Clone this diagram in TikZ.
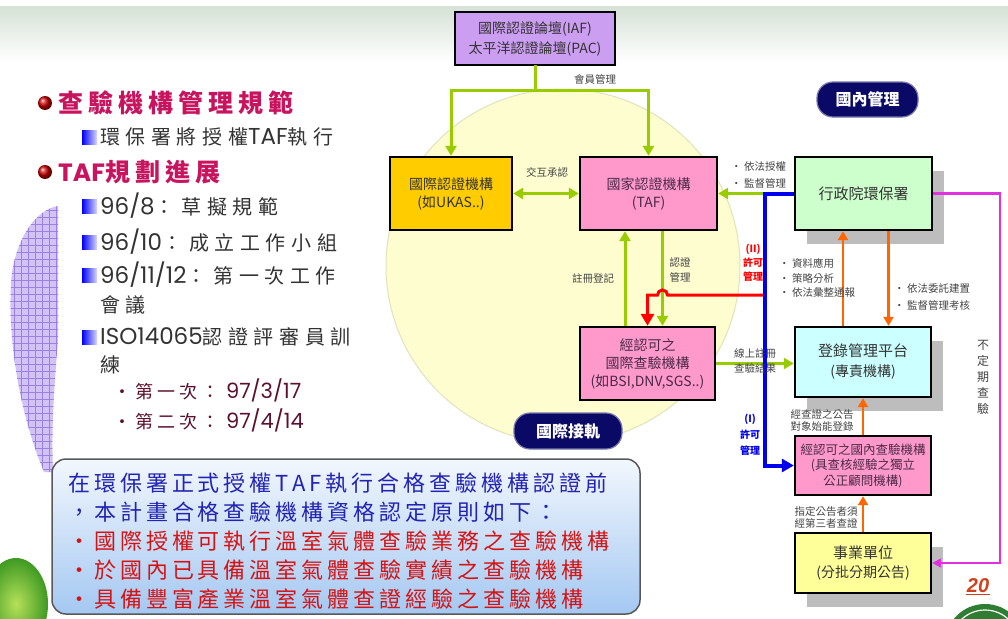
\documentclass[tikz,border=0pt]{standalone}
\usepackage{fontspec}
\setmainfont{Noto Sans CJK TC}
\setsansfont{Liberation Sans}
\newfontfamily\cjkwide{Noto Sans CJK TC}[LetterSpace=28]
\newfontfamily\cjkdate{Noto Sans CJK TC}[LetterSpace=22]
\newfontfamily\cjkhead{Noto Sans CJK TC}[LetterSpace=20]
\newfontfamily\cjkwider{Noto Sans CJK TC}[LetterSpace=18]
\newfontfamily\geo{Poppins}
\newcommand\itemcolon{：\hspace{7pt}}
\newcommand\itemlatin[1]{{\geo\fontsize{23}{24}\selectfont #1}}
\newcommand\datelatin[1]{{\geo\fontsize{21}{22}\selectfont #1}}
\usetikzlibrary{arrows.meta,shadows}

\definecolor{bandgreen}{HTML}{D6E2D6}
\definecolor{disc}{HTML}{FDFDD0}
\definecolor{discedge}{HTML}{E2E2BC}
\definecolor{lavender}{HTML}{CC9EF2}
\definecolor{gold}{HTML}{FFCC00}
\definecolor{pinkbox}{HTML}{FF99CC}
\definecolor{mint}{HTML}{CCFFCC}
\definecolor{aqua}{HTML}{CCFFFF}
\definecolor{cream}{HTML}{FFFF99}
\definecolor{shadowgray}{HTML}{BDBDBD}
\definecolor{leafgreen}{HTML}{99CC00}
\definecolor{flow}{HTML}{FF6600}
\definecolor{permit}{HTML}{FF0000}
\definecolor{royal}{HTML}{0000EE}
\definecolor{inspect}{HTML}{E030E0}
\definecolor{navy}{HTML}{0A0A66}
\definecolor{labelgray}{HTML}{444444}
\definecolor{boxink}{HTML}{333333}
\definecolor{pinkink}{HTML}{4A2A48}
\definecolor{headred}{HTML}{C8145E}
\definecolor{bodygray}{HTML}{333333}
\definecolor{datered}{HTML}{5C1030}
\definecolor{noteblue}{HTML}{2323B4}
\definecolor{notered}{HTML}{D41414}
\definecolor{notetop}{HTML}{F2F7FD}
\definecolor{notebottom}{HTML}{A4C8F2}
\definecolor{swirl}{HTML}{D2C2F6}
\definecolor{swirlgrid}{HTML}{9A80E0}
\definecolor{pagenum}{HTML}{D0401C}
\definecolor{sealgreen}{HTML}{2E7D32}
\definecolor{leaflight}{HTML}{B6E05A}
\definecolor{leafdark}{HTML}{3E9A22}

\tikzset{
  orgbox/.style={draw=black, line width=2.4pt, align=center, inner sep=0pt, text=boxink},
  castshadow/.style={drop shadow={shadow xshift=12pt, shadow yshift=-14pt, fill=shadowgray, opacity=1}},
  lbl/.style={text=labelgray, font=\fontsize{10.5}{13}\selectfont, inner sep=0pt, align=center},
  bullbl/.style={text=labelgray, font=\fontsize{10.5}{13}\selectfont, inner sep=0pt, anchor=west},
  greenline/.style={draw=leafgreen, line width=3pt},
  greenarrow/.style={draw=leafgreen, line width=3pt, -{Triangle[length=10pt,width=11pt]}},
  greenboth/.style={draw=leafgreen, line width=3pt, {Triangle[length=10pt,width=11pt]}-{Triangle[length=10pt,width=11pt]}},
  orangearrow/.style={draw=flow, line width=2.6pt, -{Triangle[length=9pt,width=10pt]}},
  redarrow/.style={draw=permit, line width=3pt, -{Triangle[length=12pt,width=13pt]}},
  bluearrow/.style={draw=royal, line width=4pt, -{Triangle[length=12pt,width=13pt]}},
  magarrow/.style={draw=inspect, line width=2.4pt, -{Triangle[length=9pt,width=9pt]}},
  pill/.style={rounded corners=16pt, fill=navy, draw=navy!55!white, line width=1.2pt, text=white, font=\bfseries\fontsize{16}{18}\selectfont, inner sep=0pt},
  headtext/.style={anchor=west, inner sep=0pt, text=headred, font=\cjkhead\bfseries\fontsize{25}{28}\selectfont},
  itemtext/.style={anchor=west, inner sep=0pt, text=bodygray, font=\cjkwide\fontsize{20}{24}\selectfont},
  datetext/.style={anchor=west, inner sep=0pt, text=datered, font=\cjkdate\fontsize{18}{22}\selectfont},
  bluenote/.style={anchor=west, inner sep=0pt, text=noteblue, font=\cjkwider\fontsize{22}{26}\selectfont},
  rednote/.style={anchor=west, inner sep=0pt, text=notered, font=\cjkwider\fontsize{22}{26}\selectfont},
  itembullet/.style={left color=blue, right color=blue!15},
}

\begin{document}
\begin{tikzpicture}[x=1pt,y=-1pt]
\useasboundingbox (0,0) rectangle (1008,618);
\fill[white] (0,0) rectangle (1008,618);
% soft band along the top edge
\shade[top color=bandgreen, bottom color=white] (0,7) rectangle (1008,62);

% pale disc behind the international side
\fill[disc, draw=discedge, line width=1pt] (563,266) circle[radius=177pt];

% purple curved ribbon on the left
\begin{scope}
  \clip (58,206) .. controls (36,210) and (18,236) .. (12,272)
        .. controls (6,330) and (18,410) .. (44,472) -- (53,472)
        .. controls (51,420) and (55,380) .. (58,340) -- cycle;
  \fill[swirl] (0,200) rectangle (60,480);
  \draw[swirlgrid, line width=0.6pt, step=7pt] (0,480) grid (60,200);
\end{scope}

% green leaf, bottom left, and seal, bottom right
\shade[inner color=leaflight, outer color=leafdark] (16,604) ellipse[x radius=32pt, y radius=46pt];
\fill[sealgreen] (985,644) circle[radius=40pt];
\draw[white, line width=1.2pt] (985,644) circle[radius=34pt];

% left column
\shade[ball color=red!80!black] (45,103) circle[radius=7pt];
\node[headtext] (h1) at (58,103) {查驗機構管理規範};
\shade[itembullet] (82,130) rectangle (97,144);
\node[itemtext] (i1) at (100,137) {環保署將授權\itemlatin{TAF}執行};
\shade[ball color=red!80!black] (45,172) circle[radius=7pt];
\node[headtext] (h2) at (58,172) {{\geo\bfseries TAF}規劃進展};
\shade[itembullet] (82,199) rectangle (97,213);
\node[itemtext] (i2) at (100,206) {\itemlatin{96/8}\itemcolon 草擬規範};
\shade[itembullet] (82,235) rectangle (97,249);
\node[itemtext] (i3) at (100,242) {\itemlatin{96/10}\itemcolon 成立工作小組};
\shade[itembullet] (82,268) rectangle (97,282);
\node[itemtext] (i4) at (100,275) {\itemlatin{96/11/12}\itemcolon 第一次工作};
\node[itemtext] (i4b) at (100,305) {會議};
\shade[itembullet] (82,330) rectangle (97,344);
\node[itemtext] (i5) at (100,337) {\itemlatin{ISO14065}認證評審員訓};
\node[itemtext] (i5b) at (100,365) {練};
\node[datetext] (d1) at (113,390) {•第一次\itemcolon\datelatin{97/3/17}};
\node[datetext] (d2) at (113,420) {•第二次\itemcolon\datelatin{97/4/14}};

% principles panel
\node[draw=black!65, line width=1.5pt, rounded corners=14pt, top color=notetop, bottom color=notebottom,
      minimum width=588pt, minimum height=155pt, inner sep=0pt] (note) at (346,536.5) {};
\node[bluenote] (n1) at (68,483) {在環保署正式授權TAF執行合格查驗機構認證前};
\node[bluenote] (n2) at (68,512) {，本計畫合格查驗機構資格認定原則如下：};
\node[rednote] (n3) at (68,541) {•國際授權可執行溫室氣體查驗業務之查驗機構};
\node[rednote] (n4) at (68,570) {•於國內已具備溫室氣體查驗實績之查驗機構};
\node[rednote] (n5) at (68,599) {•具備豐富產業溫室氣體查證經驗之查驗機構};

% badges
\node[pill, minimum width=101pt, minimum height=35pt] (homebadge) at (867.5,99.5) {國內管理};
\node[pill, minimum width=108pt, minimum height=36pt] (intlbadge) at (568,431) {國際接軌};

% organisations
\node[orgbox, fill=lavender, minimum width=160pt, minimum height=53pt, font=\fontsize{14}{20}\selectfont]
  (iaf) at (535,38.5) {國際認證論壇(IAF)\\太平洋認證論壇(PAC)};
\node[orgbox, fill=gold, minimum width=122pt, minimum height=73pt, font=\fontsize{14}{18}\selectfont]
  (intl) at (451,193.5) {國際認證機構\\(如UKAS..)};
\node[orgbox, fill=pinkbox, text=pinkink, minimum width=137pt, minimum height=73pt, font=\fontsize{14}{18}\selectfont]
  (taf) at (648.5,193.5) {國家認證機構\\(TAF)};
\node[orgbox, fill=pinkbox, text=pinkink, minimum width=135pt, minimum height=73pt, font=\fontsize{14}{18}\selectfont]
  (ib) at (647.5,363.5) {經認可之\\國際查驗機構\\(如BSI,DNV,SGS..)};
\node[orgbox, castshadow, fill=mint, minimum width=137pt, minimum height=73pt, font=\fontsize{15}{18}\selectfont]
  (epa) at (863.5,193.5) {行政院環保署};
\node[orgbox, castshadow, fill=aqua, minimum width=136pt, minimum height=70pt, font=\fontsize{15}{20}\selectfont]
  (reg) at (863,362) {登錄管理平台\\{\fontsize{14}{20}\selectfont(專責機構)}};
\node[orgbox, fill=pinkbox, text=pinkink, minimum width=136pt, minimum height=59pt, font=\fontsize{12.5}{15.5}\selectfont]
  (dom) at (863,465.5) {經認可之國內查驗機構\\(具查核經驗之獨立\\公正顧問機構)};
\node[orgbox, castshadow, fill=cream, minimum width=136pt, minimum height=60pt, font=\fontsize{15}{19}\selectfont]
  (biz) at (863,563) {事業單位\\{\fontsize{14}{19}\selectfont(分批分期公告)}};

% helper coordinates
\coordinate (hubY) at (0,90);
\coordinate (busX) at (765,0);
\coordinate (magX) at (1000,0);
\coordinate (redY) at (0,295);
\coordinate (regx) at ([xshift=-22.5pt]ib.north);
\coordinate (accx) at ([xshift=14pt]taf.south);
\coordinate (upx) at ([xshift=-20pt]reg.north);
\coordinate (downx) at ([xshift=25pt]epa.south);

% membership management
\draw[greenline, line cap=rect] (iaf.south) -- (iaf.south |- hubY);
\draw[greenarrow] (taf.north |- hubY) -- (intl.north |- hubY) -- (intl.north);
\draw[greenarrow, line cap=rect] (taf.north |- hubY) -- (taf.north);
% mutual recognition
\draw[greenboth] (intl.east) -- (taf.west);
% registration and accreditation
\draw[greenarrow] (regx) -- (regx |- taf.south);
\draw[greenarrow] (accx) -- (accx |- ib.north);
% authorisation to TAF
\draw[greenarrow] (epa.west -| busX) -- (taf.east);
% online registration of results
\draw[greenarrow] (ib.east) -- (ib.east -| reg.west);
% permit management (II), hopping over the accreditation line
\draw[redarrow] (busX |- redY) -- ([xshift=5pt]accx |- redY)
  arc[start angle=0, end angle=180, radius=5pt] -- (ib.north |- redY) -- (ib.north);
% permit management (I)
\draw[bluearrow] (epa.west) -- (epa.west -| busX) -- (dom.west -| busX) -- (dom.west);
% platform commissioning
\draw[orangearrow] (upx) -- (upx |- epa.south);
\draw[orangearrow] (downx) -- (downx |- reg.north);
\draw[orangearrow] (dom.north) -- (reg.south);
\draw[orangearrow] (biz.north) -- (dom.south);
% unscheduled inspection
\draw[magarrow] (epa.east) -- (epa.east -| magX) -- (biz.east -| magX) -- (biz.east);

% connector labels
\node[lbl] (lmember) at (595,79) {會員管理};
\node[lbl] (lmutual) at (547,172) {交互承認};
\node[lbl] (lregister) at (593,278) {註冊登記};
\node[lbl, font=\fontsize{10.5}{15}\selectfont] (laccredit) at (680,270) {認證\\管理};
\node[bullbl] (lauth1) at (731,167) {• 依法授權};
\node[bullbl] (lauth2) at (731,183) {• 監督管理};
\node[lbl, text=permit, font=\bfseries\fontsize{10}{14}\selectfont] (lpermit2) at (753,263) {(II)\\許可\\管理};
\node[bullbl] (ldata1) at (779,263) {• 資料應用};
\node[bullbl] (ldata2) at (779,278) {• 策略分析};
\node[bullbl] (ldata3) at (779,293) {• 依法彙整通報};
\node[bullbl] (lbuild1) at (894,289) {• 依法委託建置};
\node[bullbl] (lbuild2) at (894,305) {• 監督管理考核};
\node[lbl, font=\fontsize{10.5}{15}\selectfont] (lonline) at (755,360.5) {線上註冊\\查驗結果};
\node[lbl, text=royal, font=\bfseries\fontsize{10}{16}\selectfont] (lpermit1) at (750,435) {(I)\\許可\\管理};
\node[lbl, font=\fontsize{10.5}{12}\selectfont] (lverified) at (822,420) {經查證之公告\\對象始能登錄};
\node[lbl, font=\fontsize{10.5}{11.5}\selectfont] (ldesignated) at (826,517.5) {指定公告者須\\經第三者查證};
\node[lbl, font=\fontsize{12}{16}\selectfont] (lirregular) at (983,377) {不\\定\\期\\查\\驗};

% page number
\node[text=pagenum, inner sep=1pt, font=\sffamily\bfseries\itshape\fontsize{20}{22}\selectfont] (pg) at (978,586) {20};
\draw[pagenum, line width=1.5pt] (pg.south west) -- (pg.south east);
\end{tikzpicture}
\end{document}
